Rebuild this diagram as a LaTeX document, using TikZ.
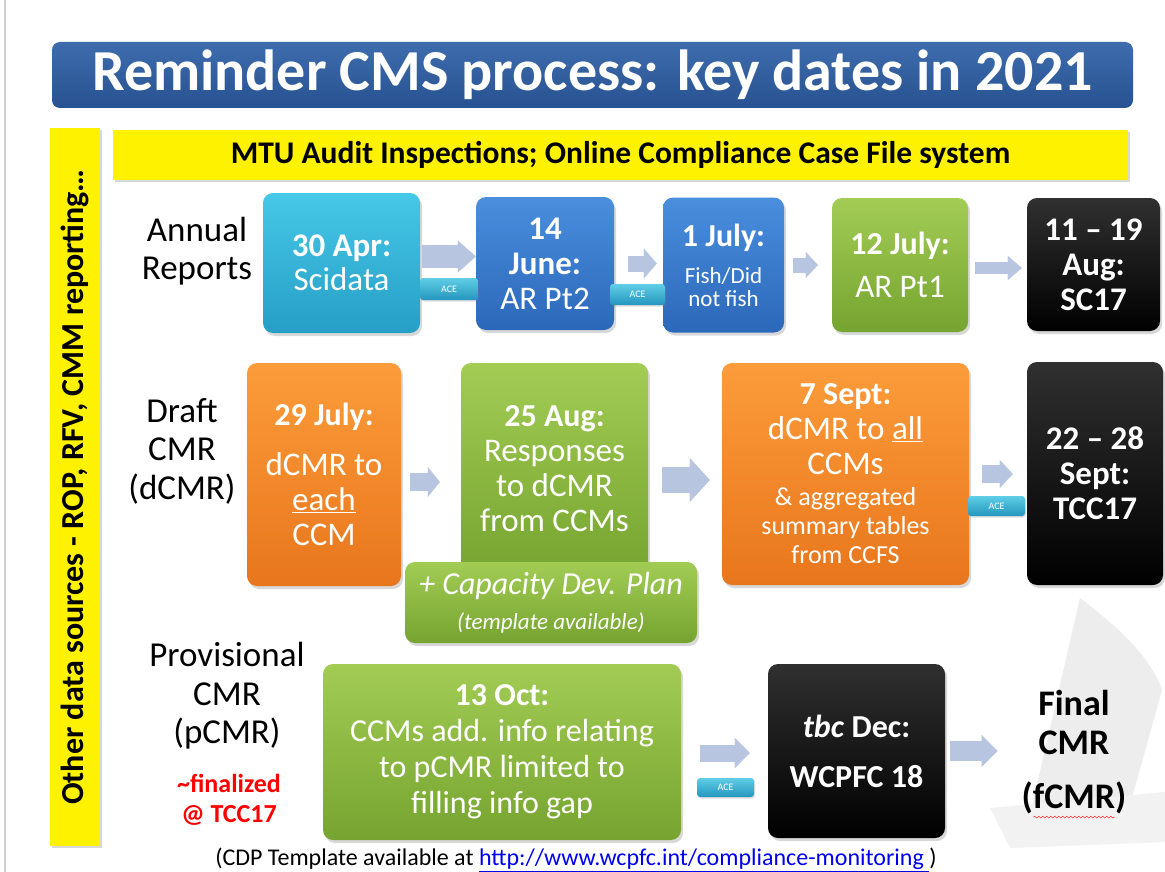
\documentclass[tikz,border=0pt]{standalone}
\usepackage{fontspec}
\setmainfont{Carlito}
\usetikzlibrary{positioning, arrows.meta, shadows, decorations.pathmorphing}

\definecolor{titletop}{RGB}{62,108,172}
\definecolor{titlebot}{RGB}{40,82,146}
\definecolor{tealtop}{RGB}{70,200,232}
\definecolor{tealbot}{RGB}{38,158,198}
\definecolor{bluetop}{RGB}{74,142,222}
\definecolor{bluebot}{RGB}{44,104,186}
\definecolor{greentop}{RGB}{162,204,84}
\definecolor{greenbot}{RGB}{118,164,48}
\definecolor{orangetop}{RGB}{252,156,58}
\definecolor{orangebot}{RGB}{232,118,28}
\definecolor{blacktop}{RGB}{48,48,48}
\definecolor{acetop}{RGB}{96,206,230}
\definecolor{acebot}{RGB}{36,150,190}
\definecolor{arrowgrey}{RGB}{183,197,224}
\definecolor{notered}{RGB}{255,0,0}
\definecolor{linkblue}{RGB}{0,0,238}

\newcommand{\fs}[2]{\fontsize{#1}{#2}\selectfont}

\begin{document}
\begin{tikzpicture}[
    x=1pt, y=-1pt,
    datebox/.style={rectangle, rounded corners=10pt, inner sep=2pt, align=center, text=white, font=\fs{33}{35},
        drop shadow={opacity=0.3, shadow xshift=2pt, shadow yshift=-3pt}},
    tealbox/.style={datebox, top color=tealtop, bottom color=tealbot},
    bluebox/.style={datebox, top color=bluetop, bottom color=bluebot},
    greenbox/.style={datebox, top color=greentop, bottom color=greenbot},
    orangebox/.style={datebox, top color=orangetop, bottom color=orangebot},
    blackbox/.style={datebox, top color=blacktop, bottom color=black},
    yellowbar/.style={rectangle, fill=yellow, inner sep=0pt, font=\fs{31.5}{33}\bfseries,
        drop shadow={opacity=0.3, shadow xshift=2pt, shadow yshift=-2pt}},
    acetag/.style={rectangle, rounded corners=3pt, inner sep=0pt, top color=acetop, bottom color=acebot,
        text=white, font=\fs{10}{11}, minimum width=57pt, minimum height=20pt,
        drop shadow={opacity=0.25, shadow xshift=1pt, shadow yshift=-1.5pt}},
    flow/.style n args={3}{draw=arrowgrey, line width=#1, -{Triangle[width=#2, length=#3, line width=0.1pt]}},
    rowlabel/.style={align=center, font=\fs{35}{38.5}},
]
\useasboundingbox (0,0) rectangle (1165,872);
\fill[white] (0,0) rectangle (1165,872);
\draw[gray!35, line width=1.5pt] (5,0) -- (5,872);

% faint sail in the background
\fill[gray!14] (1080,598) .. controls (1115,625) and (1150,655) .. (1162,690) -- (1128,812) -- (1030,815) -- cycle;
\fill[gray!10] (990,808) -- (1165,792) -- (1165,842) -- (1010,848) -- cycle;

% title and side bars
\node[rectangle, rounded corners=8pt, top color=titletop, bottom color=titlebot, text=white, inner sep=0pt,
    font=\fs{58}{60}\bfseries, minimum width=1081pt, minimum height=66pt] (title) at (592.5,75)
    {Reminder CMS process: key dates in 2021};
\node[yellowbar, minimum width=1015pt, minimum height=50pt] (mtu) at (620.5,155)
    {MTU Audit Inspections; Online Compliance Case File system};
\node[yellowbar, rotate=90, minimum width=718pt, minimum height=50pt, font=\fs{32}{33}\bfseries] (other) at (75,487)
    {Other data sources - ROP, RFV, CMM reporting…};

% annual reports
\node[rowlabel] (annual) at (197,251) {Annual\\Reports};
\node[tealbox, minimum width=157pt, minimum height=140pt, font=\fs{33}{34}] (b30apr) at (341.5,263) {\textbf{30 Apr:}\\Scidata};
\node[bluebox, minimum width=138pt, minimum height=133pt] (b14jun) at (545,263.5) {\textbf{14}\\\textbf{June:}\\AR Pt2};
\node[bluebox, minimum width=121pt, minimum height=135pt, font=\fs{23}{23}] (b1jul) at (723.5,265)
    {{\fs{32}{32}\textbf{1 July:}}\\[14pt]Fish/Did\\not fish};
\node[greenbox, minimum width=136pt, minimum height=134pt] (b12jul) at (900,265)
    {{\fs{32}{32}\textbf{12 July:}}\\[8pt]AR Pt1};
\node[blackbox, minimum width=133pt, minimum height=133pt] (bsc) at (1093.5,264.5)
    {\textbf{11 – 19}\\\textbf{Aug:}\\\textbf{SC17}};

% draft CMR
\node[rowlabel] (draft) at (182,451) {Draft\\CMR\\(dCMR)};
\node[orangebox, minimum width=154pt, minimum height=223pt] (b29jul) at (324,474.5)
    {{\fs{32}{32}\textbf{29 July:}}\\[15pt]dCMR to\\\underline{each}\\CCM};
\node[greenbox, minimum width=187pt, minimum height=212pt] (b25aug) at (554.5,469)
    {{\fs{32}{32}\textbf{25 Aug:}}\\Responses\\to dCMR\\from CCMs};
\node[greenbox, minimum width=292pt, minimum height=81pt, font=\fs{32}{35}\itshape] (cdp) at (551,602.5)
    {+ Capacity Dev. Plan\\{\fs{23}{26}\itshape (template available)}};
\node[orangebox, minimum width=247pt, minimum height=222pt] (b7sep) at (845.5,474)
    {{\fs{32}{32}\textbf{7 Sept:}}\\dCMR to \underline{all}\\CCMs\\[-4pt]{\fs{26}{29}\& aggregated}\\[-6pt]{\fs{26}{29}summary tables}\\[-6pt]{\fs{26}{29}from CCFS}};
\node[blackbox, minimum width=136pt, minimum height=223pt] (btcc) at (1095,473.5)
    {\textbf{22 – 28}\\\textbf{Sept:}\\\textbf{TCC17}};

% provisional CMR
\node[rowlabel] (prov) at (227,696) {Provisional\\CMR\\(pCMR)};
\node[align=center, text=notered, font=\fs{26}{30}\bfseries] (final) at (229,800) {\textasciitilde finalized\\@ TCC17};
\node[greenbox, minimum width=358pt, minimum height=176pt, font=\fs{32}{36}] (b13oct) at (502,752)
    {{\fs{32}{32}\textbf{13 Oct:}}\\CCMs add. info relating\\to pCMR limited to\\filling info gap};
\node[blackbox, minimum width=177pt, minimum height=174pt, font=\fs{32}{32}\bfseries] (bwcpfc) at (856.5,751)
    {\textit{tbc} Dec:\\[18pt]WCPFC 18};
\node[align=center, inner sep=0pt, font=\fs{36}{39}\bfseries] (fcmr) at (1074,752) {Final\\CMR\\[15pt](fCMR)};
\draw[notered, decorate, decoration={snake, amplitude=1pt, segment length=4pt}]
    ([xshift=12pt, yshift=-3pt]fcmr.south west) -- ([xshift=-12pt, yshift=-3pt]fcmr.south east);

% arrows
\draw[flow={23pt}{32pt}{18pt}, shorten <=2pt] ([yshift=6.5pt]b30apr.east) -- ([yshift=6.5pt]b30apr.east -| b14jun.west);
\draw[flow={16pt}{30pt}{13pt}, shorten <=14pt, shorten >=6pt] (b14jun.east) -- (b14jun.east -| b1jul.west);
\draw[flow={15pt}{26pt}{12pt}, shorten <=9pt, shorten >=14pt] (b1jul.east) -- (b1jul.east -| b12jul.west);
\draw[flow={12pt}{24pt}{14pt}, shorten <=7pt, shorten >=5pt] ([yshift=-3pt]b12jul.east) -- ([yshift=-3pt]b12jul.east -| bsc.west);
\draw[flow={18pt}{30pt}{12pt}, shorten <=9pt, shorten >=21pt] ([yshift=-7.5pt]b29jul.east) -- ([yshift=-7.5pt]b29jul.east -| b25aug.west);
\draw[flow={26pt}{44pt}{20pt}, shorten <=14pt, shorten >=12pt] ([yshift=-11pt]b25aug.east) -- ([yshift=-11pt]b25aug.east -| b7sep.west);
\draw[flow={18pt}{28pt}{13pt}, shorten <=13pt, shorten >=14pt] (b7sep.east) -- (b7sep.east -| btcc.west);
\draw[flow={17pt}{30pt}{15pt}, shorten <=19pt, shorten >=18pt] ([yshift=-1pt]b13oct.east) -- ([yshift=-1pt]b13oct.east -| bwcpfc.west);
\draw[flow={20pt}{32pt}{16pt}, shorten <=5pt, shorten >=24pt] (bwcpfc.east) -- (bwcpfc.east -| fcmr.west);

% ACE tags
\node[acetag, minimum width=58pt, minimum height=22pt] (ace1) at (449,289) {ACE};
\node[acetag, minimum width=55pt, minimum height=21pt] (ace2) at (637.5,294.5) {ACE};
\node[acetag] (ace3) at (996.5,506) {ACE};
\node[acetag, minimum height=19pt] (ace4) at (725.5,787.5) {ACE};

% footnote
\node[font=\fs{24}{26}] (note) at (576,860)
    {(CDP Template available at \textcolor{linkblue}{\underline{http://www.wcpfc.int/compliance-monitoring }})};
\end{tikzpicture}
\end{document}
